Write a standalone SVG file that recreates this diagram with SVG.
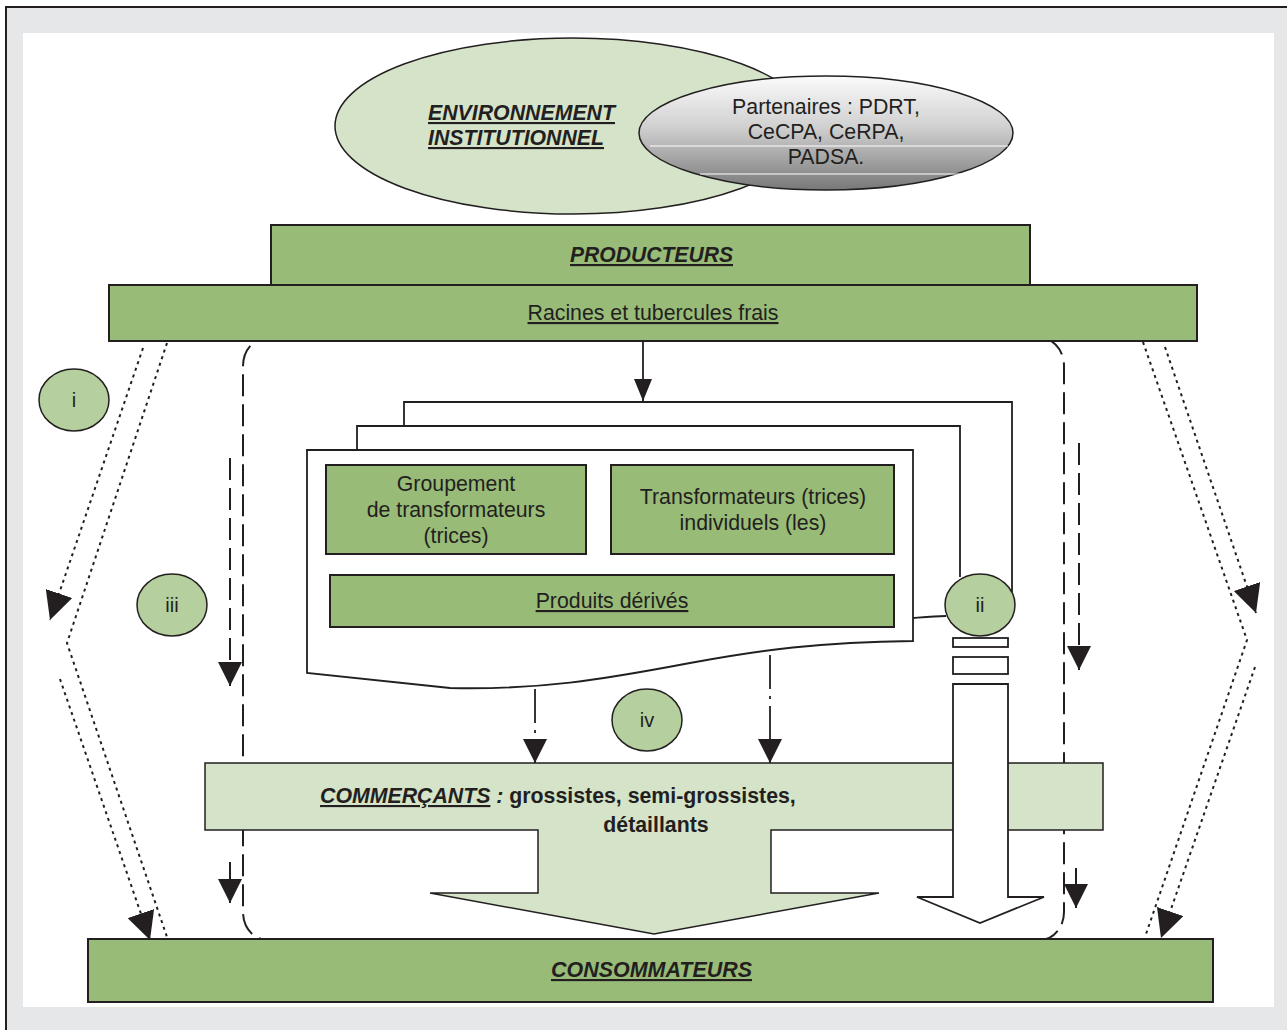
<svg xmlns="http://www.w3.org/2000/svg" width="1287" height="1030" viewBox="0 0 1287 1030">
<defs>
<style>
.t{font-family:"Liberation Sans",Arial,sans-serif;fill:#231f20;font-size:21.3px}
.c{font-size:20px}
.b{font-weight:bold;font-style:italic;text-decoration:underline}
.u{text-decoration:underline}
.dk{fill:#98bb77;stroke:#231f20;stroke-width:2}
.lt{fill:#d5e3c8;stroke:#231f20;stroke-width:1.5}
.cir{fill:#b5cf9f;stroke:#231f20;stroke-width:1.5}
.wh{fill:#ffffff;stroke:#231f20;stroke-width:1.8}
.dot{fill:none;stroke:#231f20;stroke-width:2;stroke-dasharray:3 4}
.dash{fill:none;stroke:#231f20;stroke-width:2;stroke-dasharray:22 8}
.dd{fill:none;stroke:#231f20;stroke-width:1.8;stroke-dasharray:34 7 3 7}
.sol{fill:none;stroke:#231f20;stroke-width:1.8}
</style>
<linearGradient id="gr" x1="0" y1="0" x2="0" y2="1">
<stop offset="0" stop-color="#fbfbfb"/>
<stop offset="0.45" stop-color="#d0d0d0"/>
<stop offset="1" stop-color="#787878"/>
</linearGradient>
<marker id="ah" viewBox="0 0 24 24" refX="24" refY="12" markerWidth="24" markerHeight="24" markerUnits="userSpaceOnUse" orient="auto">
<path d="M0,0 L24,12 L0,24 Z" fill="#231f20"/>
</marker>
<marker id="ahd" viewBox="0 0 28 28" refX="28" refY="14" markerWidth="28" markerHeight="28" markerUnits="userSpaceOnUse" orient="auto">
<path d="M0,0 L28,14 L0,28 Z" fill="#231f20"/>
</marker>
<marker id="ahs" viewBox="0 0 22 18" refX="22" refY="9" markerWidth="22" markerHeight="18" markerUnits="userSpaceOnUse" orient="auto">
<path d="M0,0 L22,9 L0,18 Z" fill="#231f20"/>
</marker>
</defs>

<g id="frame">
<rect x="0" y="0" width="1287" height="1030" fill="#ffffff"/>
<rect x="6" y="7" width="1290" height="1030" fill="#e6e7e8" stroke="#231f20" stroke-width="2"/>
<rect x="23" y="33" width="1251" height="974" fill="#ffffff"/>
</g>

<g id="environnement">
<ellipse cx="573" cy="126" rx="238" ry="88" class="lt"/>
<text class="t b" x="428" y="120" textLength="187" lengthAdjust="spacingAndGlyphs">ENVIRONNEMENT</text>
<text class="t b" x="428" y="145" textLength="176" lengthAdjust="spacingAndGlyphs">INSTITUTIONNEL</text>
</g>

<g id="partenaires">
<ellipse cx="826" cy="133" rx="187" ry="57" fill="url(#gr)" stroke="#231f20" stroke-width="1.5"/>
<line x1="650" y1="146" x2="1008" y2="146" stroke="#ffffff" stroke-width="1"/>
<line x1="700" y1="174" x2="990" y2="174" stroke="#ffffff" stroke-width="1"/>
<text class="t" x="826" y="114" text-anchor="middle">Partenaires : PDRT,</text>
<text class="t" x="826" y="139" text-anchor="middle">CeCPA, CeRPA,</text>
<text class="t" x="826" y="164" text-anchor="middle">PADSA.</text>
</g>

<g id="connectors">
<rect x="243" y="338" width="821" height="602" rx="24" ry="28" class="dash"/>
<path d="M143,348 L50,620" class="dot" marker-end="url(#ahd)"/>
<path d="M167,343 L67,643 L168,940" class="dot"/>
<path d="M60,679 L150,940" class="dot" marker-end="url(#ahd)"/>
<path d="M1143,342 L1247,640 L1145,937" class="dot"/>
<path d="M1165,347 L1256,613" class="dot" marker-end="url(#ahd)"/>
<path d="M1255,667 L1161,938" class="dot" marker-end="url(#ahd)"/>
<path d="M230,458 L230,686" class="dash" marker-end="url(#ah)"/>
<path d="M230,862 L230,903" class="dash" marker-end="url(#ah)"/>
<path d="M1079,443 L1079,670" class="dash" marker-end="url(#ah)"/>
<path d="M1076,868 L1076,908" class="dash" marker-end="url(#ah)"/>
<path d="M643,341 L643,401" class="sol" marker-end="url(#ahs)"/>
<path d="M535,689 L535,763" class="dd" marker-end="url(#ah)"/>
<path d="M770,655 L770,763" class="dd" marker-end="url(#ah)"/>
<path d="M913,618 C925,617 935,616 946,616" class="sol"/>
</g>

<g id="producteurs">
<rect x="271" y="225" width="759" height="60" class="dk"/>
<text class="t b" x="651.5" y="262" text-anchor="middle" textLength="163" lengthAdjust="spacingAndGlyphs">PRODUCTEURS</text>
</g>

<g id="racines">
<rect x="109" y="285" width="1088" height="56" class="dk"/>
<text class="t u" x="653" y="320" text-anchor="middle">Racines et tubercules frais</text>
</g>

<g id="transformation">
<path d="M404,426 V402 H1012 V592" class="sol"/>
<path d="M357,450 V426 H960 V577" class="sol"/>
<path d="M307,450 H913 V641 C820,642 760,650 690,663 C600,680 540,690 450,688 L307,673 Z" class="wh"/>
</g>

<g id="groupement">
<rect x="326" y="465" width="260" height="89" class="dk"/>
<text class="t" x="456" y="491" text-anchor="middle">Groupement</text>
<text class="t" x="456" y="517" text-anchor="middle">de transformateurs</text>
<text class="t" x="456" y="543" text-anchor="middle">(trices)</text>
</g>

<g id="individuels">
<rect x="611" y="465" width="283" height="89" class="dk"/>
<text class="t" x="753" y="504" text-anchor="middle">Transformateurs (trices)</text>
<text class="t" x="753" y="530" text-anchor="middle">individuels (les)</text>
</g>

<g id="produits">
<rect x="330" y="575" width="564" height="52" class="dk"/>
<text class="t u" x="612" y="608" text-anchor="middle">Produits dérivés</text>
</g>

<g id="commercants">
<path d="M205,763 H1103 V830 H771 V893 H879 L654,934 L430,893 H538 V830 H205 Z" class="lt"/>
<text class="t" x="320" y="803" font-size="22.4" font-weight="bold"><tspan font-style="italic" text-decoration="underline">COMMERÇANTS</tspan><tspan font-style="italic"> :</tspan> grossistes, semi-grossistes,</text>
<text class="t" x="656" y="832" font-size="22.4" font-weight="bold" text-anchor="middle">détaillants</text>
</g>

<g id="fleche-ii">
<rect x="953" y="638" width="55" height="9" class="wh" stroke-width="1.5"/>
<rect x="953" y="657" width="55" height="17" class="wh" stroke-width="1.5"/>
<path d="M953,684 H1008 V897 H1044 L980,923 L917,897 H953 Z" class="wh" stroke-width="1.5"/>
</g>

<g id="consommateurs">
<rect x="88" y="939" width="1125" height="63" class="dk"/>
<text class="t b" x="651.5" y="977" text-anchor="middle" textLength="201" lengthAdjust="spacingAndGlyphs">CONSOMMATEURS</text>
</g>

<g id="cercle-i">
<ellipse cx="74" cy="400" rx="35" ry="31" class="cir"/>
<text class="t c" x="74" y="407" text-anchor="middle">i</text>
</g>
<g id="cercle-ii">
<ellipse cx="980" cy="605" rx="35" ry="31" class="cir"/>
<text class="t c" x="980" y="612" text-anchor="middle">ii</text>
</g>
<g id="cercle-iii">
<ellipse cx="172" cy="605" rx="35" ry="31" class="cir"/>
<text class="t c" x="172" y="612" text-anchor="middle">iii</text>
</g>
<g id="cercle-iv">
<ellipse cx="647" cy="720" rx="35" ry="31" class="cir"/>
<text class="t c" x="647" y="727" text-anchor="middle">iv</text>
</g>
</svg>
